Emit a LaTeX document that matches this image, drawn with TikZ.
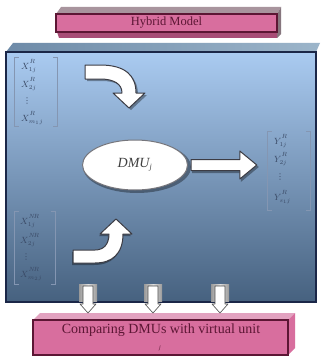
\documentclass[tikz,border=0pt]{standalone}
\usepackage{fontspec}
\setmainfont{Liberation Serif}
\newfontfamily\dotsfont{DejaVu Sans}
\usetikzlibrary{calc,shapes.geometric}

\definecolor{pinkmid}{HTML}{F6B4D4}
\definecolor{pinkedge}{HTML}{D86E9E}
\definecolor{pinkdeep}{HTML}{A84C76}
\definecolor{pinktop}{HTML}{E2A2C0}
\definecolor{greytop}{HTML}{A8949D}
\definecolor{maroon}{HTML}{5C1634}
\definecolor{skytop}{HTML}{AACBF1}
\definecolor{skymid}{HTML}{80A2CB}
\definecolor{skybot}{HTML}{46617F}
\definecolor{lidleft}{HTML}{6E8BA8}
\definecolor{lidright}{HTML}{9CB5CA}
\definecolor{navy}{HTML}{1B2748}
\definecolor{brk}{HTML}{8496B2}
\definecolor{entry}{HTML}{3A4A66}
\definecolor{rim}{HTML}{3C3C44}

% superscript lifted a little clear of the subscript
\newcommand\hiscript[1]{\raisebox{2.2pt}{$\scriptstyle #1$}}

\tikzset{
  pinkface/.style={top color=pinkedge, middle color=pinkmid, bottom color=pinkedge,
                   draw=maroon, line width=1.2pt},
  matbox/.style={inner sep=0pt, minimum width=#1},
  ent/.style={inner sep=0pt, text=entry, font=\fontsize{9}{9}\selectfont},
  vdot/.style={inner sep=0pt, text=entry, font=\dotsfont\fontsize{8}{8}\selectfont},
  bracket/.style={draw=brk, line width=0.8pt},
  blockarrow/.style={fill=white, draw=rim, line width=1pt, line join=round},
  arrowshadow/.style={fill=black, opacity=0.35},
}

\begin{document}
\begin{tikzpicture}[x=1pt,y=-1pt]
\useasboundingbox (0,0) rectangle (323,361);
\fill[white] (0,0) rectangle (323,361);

% ---- title block -------------------------------------------------
\fill[greytop] (56,14) -- (61,7) -- (281,7) -- (277,14) -- cycle;
\fill[greytop!80!black] (277,14) -- (281,7) -- (281,34) -- (277,38) -- cycle;
\fill[pinkdeep] (57,32) -- (277,32) -- (277,38) -- (59,38) -- cycle;
\node[pinkface, minimum width=221, minimum height=18, inner sep=0pt,
      text=maroon, font=\fontsize{12.5}{12.5}\selectfont] (title) at (166.5,23) {Hybrid Model};

% ---- main frame --------------------------------------------------
\shade[left color=lidleft, right color=lidright] (6,52) -- (13,43) -- (320,43) -- (316,52) -- cycle;
\node[rectangle, minimum width=310, minimum height=250, inner sep=0pt,
      top color=skytop, middle color=skymid, bottom color=skybot,
      draw=navy, line width=1.6pt] (frame) at (161,177) {};

% ---- input / output matrices -------------------------------------
\node[matbox=42, minimum height=68] (inR) at (36,92) {};
\node[ent, anchor=west] (r1) at (21,66)  {$X^{\hiscript{R}}_{1j}$};
\node[ent, anchor=west] (r2) at (21,84)  {$X^{\hiscript{R}}_{2j}$};
\node[vdot] (r3) at (27,101) {⋮};
\node[ent, anchor=west] (r4) at (21,118) {$X^{\hiscript{R}}_{m_1j}$};

\node[matbox=40, minimum height=72] (inN) at (35,248) {};
\node[ent, anchor=west] (n1) at (20,221) {$X^{\hiscript{N\!R}}_{1j}$};
\node[ent, anchor=west] (n2) at (20,240) {$X^{\hiscript{N\!R}}_{2j}$};
\node[vdot] (n3) at (26,257) {⋮};
\node[ent, anchor=west] (n4) at (20,274) {$X^{\hiscript{N\!R}}_{m_2j}$};

\node[matbox=42, minimum height=78] (outY) at (289,171) {};
\node[ent, anchor=west] (y1) at (274,141) {$Y^{\hiscript{R}}_{1j}$};
\node[ent, anchor=west] (y2) at (274,159) {$Y^{\hiscript{R}}_{2j}$};
\node[vdot] (y3) at (280,177) {⋮};
\node[ent, anchor=west] (y4) at (274,197) {$Y^{\hiscript{R}}_{s_1j}$};

\foreach \m in {inR,inN,outY}{
  \draw[bracket] ([xshift=4pt]\m.north west) -- (\m.north west) -- (\m.south west) -- ([xshift=4pt]\m.south west);
  \draw[bracket] ([xshift=-4pt]\m.north east) -- (\m.north east) -- (\m.south east) -- ([xshift=-4pt]\m.south east);
}

% ---- DMU ---------------------------------------------------------
\fill[arrowshadow] (137,167) ellipse [x radius=54, y radius=26];
\node[ellipse, fill=white, draw=rim!70, line width=1pt, minimum width=105, minimum height=50,
      inner sep=0pt, text=black!75, font=\fontsize{14}{14}\selectfont\itshape] (dmu) at (135,165)
      {DMU\textsubscript{\upshape\fontsize{8}{8}\selectfont\itshape j}};

% ---- arrow from DMU to outputs -----------------------------------
\path (dmu.east) ++(3,0) coordinate (a0);
\path ($(outY.west)+(-11,0)$) coordinate (a1);
\coordinate (tip) at (a1 |- dmu.east);
\fill[arrowshadow] ($(a0)+(1,-4)$) -- ($(tip)+(-16,-4)$) -- ($(tip)+(-16,-13)$) -- ($(tip)+(2,2)$)
  -- ($(tip)+(-16,17)$) -- ($(tip)+(-16,8)$) -- ($(a0)+(1,8)$) -- cycle;
\draw[blockarrow] ($(a0)+(0,-5.5)$) -- ($(tip)+(-17,-5.5)$) -- ($(tip)+(-17,-14)$) -- (tip)
  -- ($(tip)+(-17,14)$) -- ($(tip)+(-17,5.5)$) -- ($(a0)+(0,5.5)$) -- cycle;

% ---- curved arrow into DMU (top) ---------------------------------
\fill[arrowshadow, shift={(2,2)}] (85,65) -- (100,65) .. controls (126,65) and (136,76) .. (136,93)
  -- (145,93) -- (129,108) -- (113,93) -- (122,93) .. controls (122,84) and (114,79) .. (100,79)
  -- (85,79) -- cycle;
\draw[blockarrow] (85,65) -- (100,65) .. controls (126,65) and (136,76) .. (136,93)
  -- (145,93) -- (129,108) -- (113,93) -- (122,93) .. controls (122,84) and (114,79) .. (100,79)
  -- (85,79) -- cycle;

% ---- curved arrow into DMU (bottom) ------------------------------
\fill[arrowshadow, shift={(-1,2)}] (73,250) -- (95,250) .. controls (104,250) and (109,244) .. (109,234)
  -- (100,234) -- (116,219) -- (132,234) -- (123,234) .. controls (123,254) and (112,263) .. (95,263)
  -- (73,263) -- cycle;
\draw[blockarrow] (73,250) -- (95,250) .. controls (104,250) and (109,244) .. (109,234)
  -- (100,234) -- (116,219) -- (132,234) -- (123,234) .. controls (123,254) and (112,263) .. (95,263)
  -- (73,263) -- cycle;

% ---- comparison block --------------------------------------------
\fill[pinktop] (33,320) -- (40,313) -- (295,313) -- (288,320) -- cycle;
\fill[pinkedge] (288,320) -- (295,313) -- (295,348) -- (288,355) -- cycle;
\node[pinkface, minimum width=255, minimum height=35, inner sep=0pt] (cmp) at (160.5,337.5) {};
\node[text=maroon, font=\fontsize{14}{14}\selectfont, inner sep=0pt] (cmptxt) at (161,330)
  {Comparing DMUs with virtual unit};
\node[text=maroon, font=\fontsize{6}{6}\selectfont\itshape, inner sep=0pt] (cmpj) at (160,348) {j};

% ---- down arrows from frame into comparison block ----------------
\foreach \c in {88,153,220}{
  \shade[left color=gray!80, right color=gray!80, middle color=gray!25]
    (\c-9,284) rectangle (\c+9,301);
  \draw[blockarrow, draw=gray!60!black, line width=0.6pt]
    (\c-5,286) -- (\c+5,286) -- (\c+5,304) -- (\c+8,304) -- (\c,313) -- (\c-8,304) -- (\c-5,304) -- cycle;
}
\end{tikzpicture}
\end{document}
